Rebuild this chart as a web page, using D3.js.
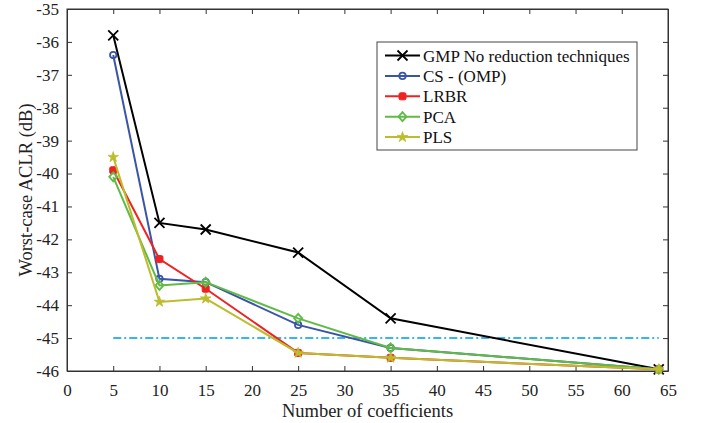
<!DOCTYPE html>
<html>
<head>
<meta charset="utf-8">
<script src="https://cdn.jsdelivr.net/npm/d3@7.9.0/dist/d3.min.js"></script>
<style>
  body { margin: 0; background: #fff; }
  svg { display: block; font-family: "Liberation Serif", "Times New Roman", serif; }
</style>
</head>
<body>
<svg id="chart" width="702" height="423"></svg>
<script>
const coeffs = [5, 10, 15, 25, 35, 64];
const gmp = [-35.8, -41.5, -41.7, -42.4, -44.4, -45.95];
const csOmp = [-36.4, -43.2, -43.3, -44.6, -45.3, -45.95];
const lrbr = [-39.9, -42.6, -43.5, -45.45, -45.6, -45.95];
const pca = [-40.1, -43.4, -43.3, -44.4, -45.3, -45.95];
const pls = [-39.5, -43.9, -43.8, -45.45, -45.6, -45.95];
const limitLine = { from: 5, to: 64, value: -45 };
const xTicks = d3.range(0, 66, 5);
const yTicks = d3.range(-46, -34, 1);

const series = [
  { name: 'GMP No reduction techniques', values: gmp, color: '#000000', marker: 'x' },
  { name: 'CS - (OMP)', values: csOmp, color: '#3a55a8', marker: 'circle' },
  { name: 'LRBR', values: lrbr, color: '#ee2222', marker: 'square' },
  { name: 'PCA', values: pca, color: '#5fbb44', marker: 'diamond' },
  { name: 'PLS', values: pls, color: '#bcbc2e', marker: 'star' },
];

const margin = { left: 67, right: 34, top: 9, bottom: 52 };
const width = 702, height = 423;
const svg = d3.select('#chart');

const x = d3.scaleLinear().domain([0, 65]).range([margin.left, width - margin.right]);
const y = d3.scaleLinear().domain([-46, -35]).range([height - margin.bottom, margin.top]);

const axisColor = '#333';
const fmt = (d) => String(d);

// frame
svg.append('rect')
  .attr('x', x(0)).attr('y', y(-35))
  .attr('width', x(65) - x(0)).attr('height', y(-46) - y(-35))
  .attr('fill', 'none').attr('stroke', axisColor).attr('stroke-width', 1);

// axes
const xAxis = svg.append('g')
  .attr('transform', `translate(0,${y(-46)})`)
  .call(d3.axisBottom(x).tickValues(xTicks).tickFormat(fmt).tickSizeInner(-5).tickSizeOuter(0).tickPadding(13));
const xTop = svg.append('g')
  .attr('transform', `translate(0,${y(-35)})`)
  .call(d3.axisTop(x).tickValues(xTicks).tickSizeInner(-5).tickSizeOuter(0).tickFormat(''));
const yAxis = svg.append('g')
  .attr('transform', `translate(${x(0)},0)`)
  .call(d3.axisLeft(y).tickValues(yTicks).tickFormat(fmt).tickSizeInner(-5).tickSizeOuter(0).tickPadding(8));
const yRight = svg.append('g')
  .attr('transform', `translate(${x(65)},0)`)
  .call(d3.axisRight(y).tickValues(yTicks).tickSizeInner(-5).tickSizeOuter(0).tickFormat(''));

[xAxis, xTop, yAxis, yRight].forEach((g) => {
  g.attr('font-family', null);
  g.select('.domain').attr('stroke', axisColor);
  g.selectAll('.tick line').attr('stroke', axisColor);
  g.selectAll('.tick text')
    .attr('fill', '#222')
    .style('font-size', '17px')
    .style('font-family', '"Liberation Serif", serif');
});

// axis labels
svg.append('text')
  .attr('x', (x(0) + x(65)) / 2).attr('y', 417)
  .attr('text-anchor', 'middle')
  .attr('fill', '#222')
  .style('font-size', '18.5px')
  .text('Number of coefficients');

svg.append('text')
  .attr('transform', `translate(31.5,190) rotate(-90)`)
  .attr('text-anchor', 'middle')
  .attr('fill', '#222')
  .style('font-size', '18.5px')
  .text('Worst-case ACLR (dB)');

// dash-dot reference line
svg.append('line')
  .attr('x1', x(limitLine.from)).attr('x2', x(limitLine.to))
  .attr('y1', y(limitLine.value)).attr('y2', y(limitLine.value))
  .attr('stroke', '#38b6ec').attr('stroke-width', 2)
  .attr('stroke-dasharray', '8,3,2,3');

const line = d3.line().x((d) => x(d[0])).y((d) => y(d[1]));

function drawMarker(g, type, cx, cy, color) {
  if (type === 'x') {
    g.append('path')
      .attr('d', `M${cx - 5},${cy - 5}L${cx + 5},${cy + 5}M${cx - 5},${cy + 5}L${cx + 5},${cy - 5}`)
      .attr('stroke', color).attr('stroke-width', 1.8).attr('fill', 'none');
  } else if (type === 'circle') {
    g.append('circle').attr('cx', cx).attr('cy', cy).attr('r', 3.2)
      .attr('fill', 'none').attr('stroke', color).attr('stroke-width', 1.8);
  } else if (type === 'square') {
    g.append('rect').attr('x', cx - 3.5).attr('y', cy - 3.5).attr('width', 7).attr('height', 7)
      .attr('rx', 1.5).attr('fill', color).attr('stroke', color).attr('stroke-width', 1);
  } else if (type === 'diamond') {
    g.append('path')
      .attr('d', `M${cx},${cy - 4.5}L${cx + 4},${cy}L${cx},${cy + 4.5}L${cx - 4},${cy}Z`)
      .attr('fill', 'none').attr('stroke', color).attr('stroke-width', 1.8);
  } else if (type === 'star') {
    g.append('path')
      .attr('d', d3.symbol(d3.symbolStar, 34)())
      .attr('transform', `translate(${cx},${cy})`)
      .attr('fill', color).attr('stroke', color).attr('stroke-width', 0.8);
  }
}

// series, in legend order (later ones on top, as in the reference)
series.forEach((s) => {
  const pts = coeffs.map((c, k) => [c, s.values[k]]);
  const g = svg.append('g');
  g.append('path')
    .attr('d', line(pts))
    .attr('fill', 'none')
    .attr('stroke', s.color)
    .attr('stroke-width', 2);
  pts.forEach((p) => drawMarker(g, s.marker, x(p[0]), y(p[1]), s.color));
});

// legend
const legend = svg.append('g');
legend.append('rect')
  .attr('x', 377).attr('y', 42).attr('width', 260).attr('height', 108)
  .attr('fill', '#fff').attr('stroke', '#444').attr('stroke-width', 1);

series.forEach((s, i) => {
  const ly = 55.5 + i * 20.4;
  legend.append('line')
    .attr('x1', 385).attr('x2', 420).attr('y1', ly).attr('y2', ly)
    .attr('stroke', s.color).attr('stroke-width', 2);
  drawMarker(legend, s.marker, 402.5, ly, s.color);
  legend.append('text')
    .attr('x', 423).attr('y', ly + 6)
    .attr('fill', '#111')
    .style('font-size', '17px')
    .text(s.name);
});
</script>
</body>
</html>
